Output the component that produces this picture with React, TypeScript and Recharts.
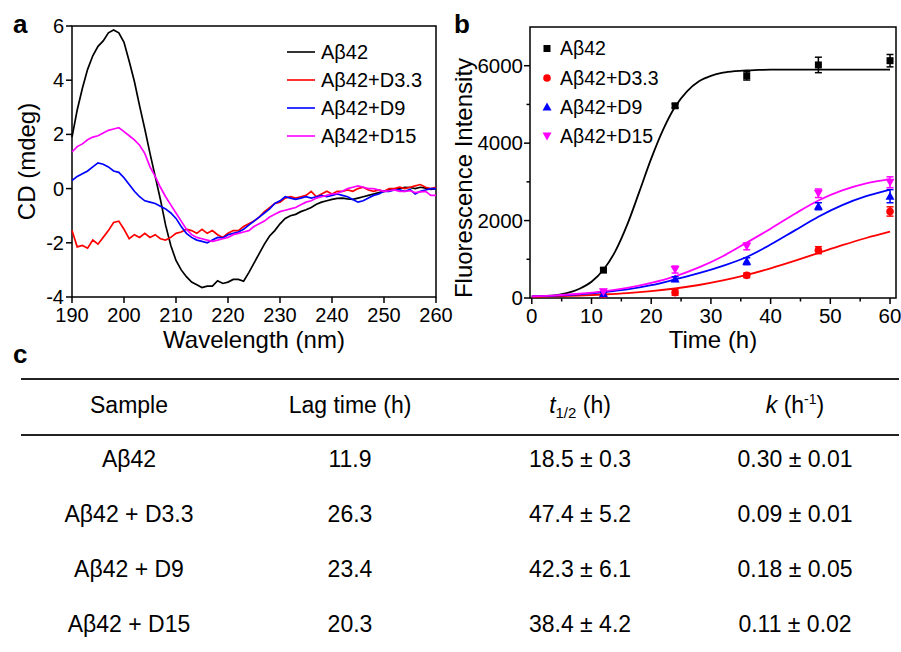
import {
  ComposedChart,
  ErrorBar,
  Label,
  Legend,
  Line,
  LineChart,
  ReferenceArea,
  Scatter,
  XAxis,
  YAxis,
} from 'recharts'

const FONT = '"Liberation Sans", Arial, Helvetica, sans-serif'

const SERIES_NAMES = ['Aβ42', 'Aβ42+D3.3', 'Aβ42+D9', 'Aβ42+D15']
const SERIES_COLORS = ['#000000', '#ff0000', '#0000ff', '#ff00ff']

// panel a: CD spectra, one reading per nm starting at 190 nm
const WL_START = 190
const CD_A42 = [
  1.9, 2.9, 3.7, 4.4, 4.9, 5.25, 5.45, 5.75, 5.85, 5.75, 5.4, 4.7, 3.95, 3.05, 2.2, 1.3, 0.45, -0.4,
  -1.35, -2.1, -2.65, -3.0, -3.25, -3.45, -3.55, -3.65, -3.6, -3.6, -3.4, -3.5, -3.45, -3.35, -3.35,
  -3.42, -3.1, -2.75, -2.4, -2.05, -1.75, -1.55, -1.3, -1.1, -1.0, -0.95, -0.85, -0.78, -0.7, -0.58,
  -0.5, -0.45, -0.4, -0.36, -0.35, -0.38, -0.4, -0.35, -0.3, -0.25, -0.2, -0.15, -0.1, -0.05, -0.02,
  0.0, 0.05, 0.04, 0.0, 0.05, 0.02, -0.03, 0.0,
]
const CD_D33 = [
  -1.55, -2.15, -2.1, -2.2, -1.9, -2.05, -1.8, -1.55, -1.25, -1.2, -1.5, -1.85, -1.7, -1.8, -1.65,
  -1.8, -1.7, -1.85, -1.9, -1.8, -1.65, -1.6, -1.5, -1.55, -1.65, -1.5, -1.65, -1.55, -1.7, -1.8,
  -1.65, -1.55, -1.55, -1.4, -1.3, -1.2, -1.05, -0.85, -0.7, -0.55, -0.5, -0.35, -0.3, -0.35, -0.3,
  -0.25, -0.1, -0.3, -0.2, -0.1, -0.2, -0.1, -0.1, -0.05, -0.1, 0.0, 0.05, -0.05, -0.1, -0.05, -0.1,
  0.0, 0.0, 0.05, 0.0, 0.05, 0.1, 0.15, 0.05, 0.0, 0.05,
]
const CD_D9 = [
  0.3, 0.45, 0.55, 0.65, 0.8, 0.95, 0.9, 0.8, 0.65, 0.6, 0.4, 0.15, -0.1, -0.3, -0.45, -0.5, -0.55,
  -0.65, -0.75, -0.9, -1.1, -1.4, -1.65, -1.8, -1.9, -1.95, -2.0, -1.9, -1.8, -1.82, -1.7, -1.65, -1.6,
  -1.5, -1.35, -1.2, -1.05, -0.9, -0.75, -0.55, -0.45, -0.3, -0.35, -0.4, -0.35, -0.3, -0.35, -0.3,
  -0.25, -0.3, -0.25, -0.2, -0.25, -0.3, -0.4, -0.5, -0.45, -0.35, -0.25, -0.2, -0.1, -0.1, -0.05,
  -0.05, -0.1, -0.03, -0.2, -0.1, -0.05, 0.0, 0.0,
]
const CD_D15 = [
  1.35, 1.55, 1.65, 1.8, 1.9, 1.95, 2.05, 2.15, 2.2, 2.25, 2.1, 1.95, 1.8, 1.6, 1.3, 0.8, 0.45, 0.05,
  -0.3, -0.6, -0.9, -1.2, -1.5, -1.7, -1.8, -1.85, -1.9, -1.95, -1.9, -1.85, -1.8, -1.7, -1.65, -1.6,
  -1.55, -1.4, -1.3, -1.2, -1.05, -0.95, -0.85, -0.8, -0.75, -0.7, -0.6, -0.5, -0.45, -0.35, -0.3,
  -0.25, -0.2, -0.18, -0.1, 0.0, 0.05, 0.1, 0.05, 0.0, 0.0, -0.05, -0.1, -0.08, -0.05, -0.1, -0.1,
  -0.08, -0.15, -0.12, -0.1, -0.25, -0.25,
]
const WL_TICKS = [190, 200, 210, 220, 230, 240, 250, 260]
const CD_TICKS = [-4, -2, 0, 2, 4, 6]

// panel b: ThT kinetics, fitted curves and measured points
const TIME_TICKS = [0, 5, 10, 15, 20, 25, 30, 35, 40, 45, 50, 55, 60]
const FI_TICKS = [0, 1000, 2000, 3000, 4000, 5000, 6000]
const FIT_T_FINE = [
  0, 2, 4, 6, 8, 10, 12, 14, 16, 18, 20, 22, 24, 26, 28, 30, 32, 34, 36, 38, 40, 42, 44, 46, 48, 50,
  52, 54, 56, 58, 60,
]
const FIT_A42 = [
  40, 50, 70, 130, 240, 420, 730, 1210, 1900, 2740, 3600, 4350, 4940, 5340, 5600, 5740, 5820, 5860,
  5880, 5890, 5900, 5900, 5900, 5900, 5900, 5900, 5900, 5900, 5900, 5900, 5900,
]
const FIT_T = [0, 4, 8, 12, 16, 20, 24, 28, 32, 36, 40, 44, 48, 52, 56, 60]
const FIT_D33 = [30, 45, 63, 90, 126, 177, 245, 336, 453, 596, 768, 960, 1162, 1364, 1550, 1715]
const FIT_D9 = [40, 60, 95, 150, 220, 330, 480, 640, 830, 1060, 1380, 1740, 2100, 2400, 2630, 2800]
const FIT_D15 = [45, 70, 110, 170, 260, 390, 560, 790, 1080, 1430, 1790, 2170, 2520, 2780, 2960, 3070]

const OBS_T = [12, 24, 36, 48, 60]
const OBS_A42 = [720, 4965, 5740, 6020, 6130]
const ERR_A42 = [50, 50, 110, 200, 160]
const OBS_D33 = [60, 140, 585, 1235, 2235]
const ERR_D33 = [30, 70, 60, 90, 120]
const OBS_D9 = [110, 490, 950, 2370, 2630]
const ERR_D9 = [40, 60, 90, 90, 170]
const OBS_D15 = [160, 735, 1335, 2705, 2990]
const ERR_D15 = [60, 90, 90, 110, 140]

// panel c: fitted kinetic parameters
const TABLE_SAMPLES = ['Aβ42', 'Aβ42 + D3.3', 'Aβ42 + D9', 'Aβ42 + D15']
const TABLE_LAG = ['11.9', '26.3', '23.4', '20.3']
const TABLE_THALF = ['18.5 ± 0.3', '47.4 ± 5.2', '42.3 ± 6.1', '38.4 ± 4.2']
const TABLE_K = ['0.30 ± 0.01', '0.09 ± 0.01', '0.18 ± 0.05', '0.11 ± 0.02']

const cdRows = CD_A42.map((v, i) => ({
  w: WL_START + i,
  a42: v,
  d33: CD_D33[i],
  d9: CD_D9[i],
  d15: CD_D15[i],
}))

const toPoints = (ts: number[], vs: number[], es?: number[]) =>
  ts.map((t, i) => ({ t, v: vs[i], e: es ? es[i] : 0 }))

const makeXTick = (isMajor: (v: number) => boolean, fontSize: number) => (props: any) => {
  const { x, y, payload } = props
  const major = isMajor(payload.value)
  return (
    <g>
      <line x1={x} x2={x} y1={y} y2={y + (major ? 6 : 3.5)} stroke="#000" strokeWidth={1.5} />
      {major && (
        <text x={x} y={y + 25} textAnchor="middle" fontSize={fontSize} fontFamily={FONT} fill="#000">
          {payload.value}
        </text>
      )}
    </g>
  )
}

const makeYTick = (isMajor: (v: number) => boolean, fontSize: number, gap: number) => (props: any) => {
  const { x, y, payload } = props
  const major = isMajor(payload.value)
  return (
    <g>
      <line x1={x} x2={x - (major ? 6 : 3.5)} y1={y} y2={y} stroke="#000" strokeWidth={1.5} />
      {major && (
        <text x={x - gap} y={y} dy="0.35em" textAnchor="end" fontSize={fontSize} fontFamily={FONT} fill="#000">
          {payload.value}
        </text>
      )}
    </g>
  )
}

const xTitle = (text: string, dy: number) => (props: any) => {
  const vb = props.viewBox ?? { x: 0, y: 0, width: 0, height: 0 }
  return (
    <text x={vb.x + vb.width / 2} y={vb.y + dy} textAnchor="middle" fontSize={24} fontFamily={FONT} fill="#000">
      {text}
    </text>
  )
}

const yTitle = (text: string, cx: number, shift: number) => (props: any) => {
  const vb = props.viewBox ?? { x: 0, y: 0, width: 0, height: 0 }
  const x = vb.x + cx
  const y = vb.y + vb.height / 2 + shift
  return (
    <text
      x={x}
      y={y}
      dy="0.35em"
      transform={`rotate(-90, ${x}, ${y})`}
      textAnchor="middle"
      fontSize={24}
      fontFamily={FONT}
      fill="#000"
    >
      {text}
    </text>
  )
}

function LegendA() {
  return (
    <svg width={170} height={130} style={{ display: 'block' }}>
      {SERIES_NAMES.map((name, i) => (
        <g key={name}>
          <line x1={7} x2={35} y1={16 + i * 28} y2={16 + i * 28} stroke={SERIES_COLORS[i]} strokeWidth={1.6} />
          <text x={41} y={16 + i * 28} dy="0.35em" fontSize={20} fontFamily={FONT} fill="#000">
            {name}
          </text>
        </g>
      ))}
    </svg>
  )
}

const Square = (p: any) => <rect x={p.cx - 3.5} y={p.cy - 3.5} width={7} height={7} fill={SERIES_COLORS[0]} />
const Dot = (p: any) => <circle cx={p.cx} cy={p.cy} r={3.8} fill={SERIES_COLORS[1]} />
const TriUp = (p: any) => (
  <polygon
    points={`${p.cx},${p.cy - 4.5} ${p.cx + 4.5},${p.cy + 3.5} ${p.cx - 4.5},${p.cy + 3.5}`}
    fill={SERIES_COLORS[2]}
  />
)
const TriDown = (p: any) => (
  <polygon
    points={`${p.cx},${p.cy + 4.5} ${p.cx + 4.5},${p.cy - 3.5} ${p.cx - 4.5},${p.cy - 3.5}`}
    fill={SERIES_COLORS[3]}
  />
)
const MARKERS = [Square, Dot, TriUp, TriDown]

function LegendB() {
  const rows = [14.5, 44, 73, 102]
  return (
    <svg width={180} height={130} style={{ display: 'block' }}>
      {SERIES_NAMES.map((name, i) => {
        const Marker = MARKERS[i]
        return (
          <g key={name}>
            <Marker cx={12} cy={rows[i]} />
            <text x={25} y={rows[i]} dy="0.35em" fontSize={19.5} fontFamily={FONT} fill="#000">
              {name}
            </text>
          </g>
        )
      })}
    </svg>
  )
}

function CdPanel() {
  return (
    <LineChart width={466} height={360} data={cdRows} margin={{ top: 26, right: 30, bottom: 0, left: 0 }}>
      <XAxis
        dataKey="w"
        type="number"
        domain={[190, 260]}
        ticks={WL_TICKS}
        interval={0}
        height={63}
        axisLine={false}
        tickLine={false}
        tickSize={0}
        tickMargin={0}
        tick={makeXTick(() => true, 20)}
      >
        <Label content={xTitle('Wavelength (nm)', 51)} />
      </XAxis>
      <YAxis
        type="number"
        domain={[-4, 6]}
        ticks={CD_TICKS}
        interval={0}
        width={72}
        axisLine={false}
        tickLine={false}
        tickSize={0}
        tickMargin={0}
        tick={makeYTick(() => true, 20, 8)}
      >
        <Label content={yTitle('CD (mdeg)', 27, 0)} />
      </YAxis>
      <ReferenceArea x1={190} x2={260} y1={-4} y2={6} fill="none" stroke="#000" strokeWidth={1.5} />
      <Line dataKey="a42" stroke={SERIES_COLORS[0]} strokeWidth={1.7} dot={false} isAnimationActive={false} />
      <Line dataKey="d33" stroke={SERIES_COLORS[1]} strokeWidth={1.7} dot={false} isAnimationActive={false} />
      <Line dataKey="d9" stroke={SERIES_COLORS[2]} strokeWidth={1.7} dot={false} isAnimationActive={false} />
      <Line dataKey="d15" stroke={SERIES_COLORS[3]} strokeWidth={1.7} dot={false} isAnimationActive={false} />
      <Legend
        layout="vertical"
        align="center"
        verticalAlign="middle"
        content={() => <LegendA />}
        wrapperStyle={{ left: 280, top: 36, width: 170, height: 130 }}
      />
    </LineChart>
  )
}

function KineticsPanel() {
  const fits = [
    toPoints(FIT_T_FINE, FIT_A42),
    toPoints(FIT_T, FIT_D33),
    toPoints(FIT_T, FIT_D9),
    toPoints(FIT_T, FIT_D15),
  ]
  const obs = [
    toPoints(OBS_T, OBS_A42, ERR_A42),
    toPoints(OBS_T, OBS_D33, ERR_D33),
    toPoints(OBS_T, OBS_D9, ERR_D9),
    toPoints(OBS_T, OBS_D15, ERR_D15),
  ]
  return (
    <ComposedChart width={461} height={360} margin={{ top: 27, right: 5, bottom: 0, left: 0 }}>
      <XAxis
        dataKey="t"
        type="number"
        domain={[-0.3, 61]}
        allowDataOverflow
        ticks={TIME_TICKS}
        interval={0}
        height={62}
        axisLine={false}
        tickLine={false}
        tickSize={0}
        tickMargin={0}
        tick={makeXTick((v) => v % 10 === 0, 20.5)}
      >
        <Label content={xTitle('Time (h)', 50)} />
      </XAxis>
      <YAxis
        dataKey="v"
        type="number"
        domain={[0, 7000]}
        allowDataOverflow
        ticks={FI_TICKS}
        interval={0}
        width={90}
        axisLine={false}
        tickLine={false}
        tickSize={0}
        tickMargin={0}
        tick={makeYTick((v) => v % 2000 === 0, 20.5, 7)}
      >
        <Label content={yTitle('Fluorescence Intensity', 24, 15.5)} />
      </YAxis>
      <ReferenceArea x1={-0.3} x2={61} y1={0} y2={7000} fill="none" stroke="#000" strokeWidth={1.5} />
      {fits.map((data, i) => (
        <Line
          key={`fit-${i}`}
          data={data}
          dataKey="v"
          type="monotone"
          stroke={SERIES_COLORS[i]}
          strokeWidth={1.8}
          dot={false}
          isAnimationActive={false}
        />
      ))}
      {obs.map((data, i) => (
        <Scatter key={`obs-${i}`} data={data} dataKey="v" shape={MARKERS[i]} isAnimationActive={false}>
          <ErrorBar dataKey="e" direction="y" width={3.5} stroke={SERIES_COLORS[i]} strokeWidth={1.5} />
        </Scatter>
      ))}
      <Legend
        layout="vertical"
        align="center"
        verticalAlign="middle"
        content={() => <LegendB />}
        wrapperStyle={{ left: 95, top: 34, width: 180, height: 130 }}
      />
    </ComposedChart>
  )
}

function Overlay() {
  const cols = [129, 350, 580, 795]
  const rowBase = [467, 522, 577, 632]
  const tableFont = 23
  const cell = (x: number, y: number, s: string) => (
    <text x={x} y={y} textAnchor="middle" fontSize={tableFont} fontFamily={FONT} fill="#000">
      {s}
    </text>
  )
  return (
    <svg
      width={901}
      height={652}
      style={{ position: 'absolute', left: 0, top: 0, pointerEvents: 'none' }}
    >
      <g fontFamily={FONT} fontWeight="bold" fontSize={26} fill="#000">
        <text x={13} y={33}>a</text>
        <text x={454} y={33}>b</text>
        <text x={13} y={363}>c</text>
      </g>
      <line x1={21} x2={899} y1={379} y2={379} stroke="#222" strokeWidth={2} />
      <line x1={21} x2={899} y1={435} y2={435} stroke="#222" strokeWidth={2} />
      {cell(cols[0], 413, 'Sample')}
      {cell(cols[1], 413, 'Lag time (h)')}
      <text x={cols[2]} y={413} textAnchor="middle" fontSize={tableFont} fontFamily={FONT} fill="#000">
        <tspan fontStyle="italic">t</tspan>
        <tspan fontSize={15} dy={5}>1/2</tspan>
        <tspan dy={-5}> (h)</tspan>
      </text>
      <text x={cols[3]} y={413} textAnchor="middle" fontSize={tableFont} fontFamily={FONT} fill="#000">
        <tspan fontStyle="italic">k</tspan>
        <tspan> (h</tspan>
        <tspan fontSize={14} dy={-9}>-1</tspan>
        <tspan dy={9}>)</tspan>
      </text>
      {TABLE_SAMPLES.map((s, i) => (
        <g key={s}>
          {cell(cols[0], rowBase[i], s)}
          {cell(cols[1], rowBase[i], TABLE_LAG[i])}
          {cell(cols[2], rowBase[i], TABLE_THALF[i])}
          {cell(cols[3], rowBase[i], TABLE_K[i])}
        </g>
      ))}
    </svg>
  )
}

export default function App() {
  return (
    <div
      style={{
        position: 'absolute',
        left: 0,
        top: 0,
        width: 901,
        height: 652,
        background: '#fff',
        fontFamily: FONT,
        overflow: 'hidden',
      }}
    >
      <div style={{ position: 'absolute', left: 0, top: 0 }}>
        <CdPanel />
      </div>
      <div style={{ position: 'absolute', left: 440, top: 0 }}>
        <KineticsPanel />
      </div>
      <Overlay />
    </div>
  )
}
